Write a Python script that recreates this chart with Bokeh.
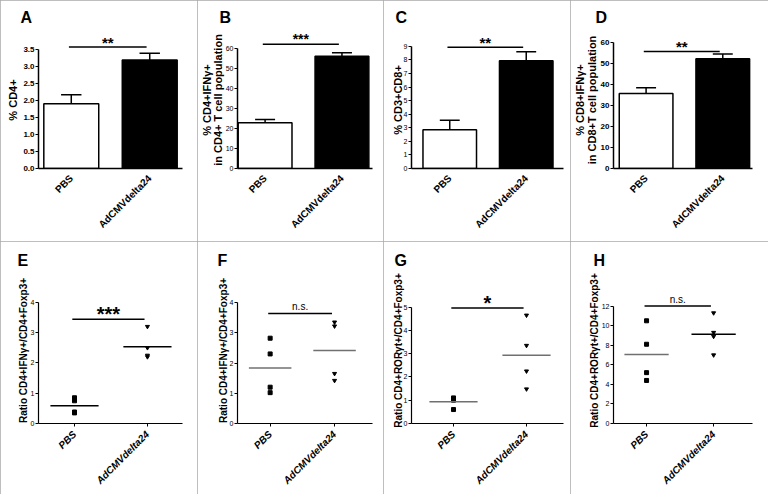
from math import pi
from bokeh.plotting import figure
from bokeh.layouts import gridplot
from bokeh.models import Range1d, FixedTicker, Label, NumeralTickFormatter, LinearAxis
from bokeh.embed import file_html
from bokeh.resources import INLINE

# ---------------- data ----------------
groups = ["PBS", "AdCMVdelta24"]

# top row: mean and SEM of the bar charts
a_mean = [1.90, 3.18]
a_sem = [0.26, 0.20]
b_mean = [22.8, 56.0]
b_sem = [1.7, 1.8]
c_mean = [2.85, 7.95]
c_sem = [0.70, 0.65]
d_mean = [35.7, 52.3]
d_sem = [2.8, 2.2]

# bottom row: individual ratios
e_pbs = [0.85, 0.75, 0.38, 0.35]
e_ad = [3.20, 2.50, 2.25, 2.20]
f_pbs = [2.82, 2.30, 1.20, 1.02]
f_ad = [3.35, 3.22, 1.65, 1.42]
g_pbs = [1.05, 1.00, 1.10, 0.60]
g_ad = [4.65, 3.35, 2.25, 1.48]
h_pbs = [10.5, 8.1, 5.2, 4.4]
h_ad = [11.3, 9.3, 8.9, 7.0]

panel_letters = ["A", "B", "C", "D", "E", "F", "G", "H"]
sig_labels = ["**", "***", "**", "**", "***", "n.s.", "*", "n.s."]
sig_levels = [3.56, 62.0, 8.93, 55.7, 3.44, 3.64, 4.96, 12.0]

ticks_a = [0, 0.5, 1.0, 1.5, 2.0, 2.5, 3.0, 3.5]
ticks_b = [0, 10, 20, 30, 40, 50, 60]
ticks_c = [0, 1, 2, 3, 4, 5, 6, 7, 8, 9]
ticks_d = [0, 10, 20, 30, 40, 50, 60]
ticks_e = [0, 1, 2, 3, 4]
ticks_f = [0, 1, 2, 3, 4]
ticks_g = [0, 1, 2, 3, 4, 5]
ticks_h = [0, 2, 4, 6, 8, 10, 12]

ylab_a = "% CD4+"
ylab_b = ["% CD4+IFNγ+", "in CD4+ T cell population"]
ylab_c = "% CD3+CD8+"
ylab_d = ["% CD8+IFNγ+", "in CD8+T cell population"]
ylab_e = "Ratio CD4+IFNγ+/CD4+Foxp3+"
ylab_f = "Ratio CD4+IFNγ+/CD4+Foxp3+"
ylab_g = "Ratio CD4+RORγt+/CD4+Foxp3+"
ylab_h = "Ratio CD4+RORγt+/CD4+Foxp3+"

# ---------------- layout / style ----------------
FONT = "Liberation Sans"
COL_W = [197, 186, 187, 198]
ROW_H = [241, 253]
# reference geometry (px inside each panel): axis-left, axis-right, y0, ytop-tick,
# x(PBS), x(Ad), letter centre x, title standoff, frame top, y-label standoff
GEO = [
    dict(L=37, R=182, Y0=171, YT=49, P1=70, P2=149, lx=25, so=12, ft=31, ls=1),
    dict(L=38, R=175, Y0=170, YT=48, P1=66, P2=144, lx=26, so=12, ft=31, ls=-1),
    dict(L=25, R=180, Y0=169, YT=46, P1=64, P2=142, lx=15, so=12, ft=31, ls=1),
    dict(L=40, R=185, Y0=168, YT=42, P1=74, P2=154, lx=28, so=12, ft=31, ls=0),
    dict(L=38, R=190, Y0=183, YT=61, P1=76, P2=153, lx=23, so=17, ft=36, ls=-1),
    dict(L=32, R=185, Y0=182, YT=61, P1=69, P2=142, lx=18, so=17, ft=36, ls=-2),
    dict(L=28, R=180, Y0=184, YT=66, P1=70, P2=143, lx=17, so=17, ft=36, ls=-3),
    dict(L=39, R=182, Y0=184, YT=65, P1=73, P2=142, lx=25, so=17, ft=36, ls=-1),
]
PANEL_STYLE = {"outline": "1px solid #a8a8a8", "outline-offset": "-1px"}
LETTER_PX = 16


def label_axis(p, text, center, size, standoff):
    ax = LinearAxis(axis_label=text, ticker=FixedTicker(ticks=[]),
                    bounds=(center - 0.5, center + 0.5))
    ax.axis_line_color = None
    ax.major_tick_line_color = None
    ax.minor_tick_line_color = None
    ax.major_tick_out = 0
    ax.major_tick_in = 0
    ax.minor_tick_out = 0
    ax.major_label_standoff = 0
    ax.axis_label_standoff = standoff
    ax.axis_label_text_font = FONT
    ax.axis_label_text_font_size = size
    ax.axis_label_text_font_style = "bold"
    ax.axis_label_text_color = "black"
    p.add_layout(ax, "left")


def base_panel(i, ticks, ylabel, tick_font_size, tick_bold, ylab_size, top_row):
    col, row = i % 4, i // 4
    W, H = COL_W[col], ROW_H[row]
    g = GEO[i]
    T = ticks[-1]
    ppx = g["P2"] - g["P1"]
    ppy = (g["Y0"] - g["YT"]) / T
    xs = 1 - (g["P1"] - g["L"]) / ppx
    xe = 2 + (g["R"] - g["P2"]) / ppx
    ye = (g["Y0"] - g["ft"]) / ppy
    p = figure(width=W, height=H, x_range=Range1d(xs, xe), y_range=Range1d(0, ye),
               output_backend="svg", toolbar_location=None,
               min_border_left=g["L"], min_border_right=W - g["R"],
               min_border_top=g["ft"], min_border_bottom=H - g["Y0"],
               styles=PANEL_STYLE)
    p.grid.visible = False
    p.outline_line_color = None
    p.background_fill_color = "white"
    p.border_fill_color = "white"

    # panel letter as the plot title
    p.title.text = panel_letters[i]
    p.title.text_font = FONT
    p.title.text_font_size = f"{LETTER_PX}px"
    p.title.text_font_style = "bold"
    p.title.text_color = "black"
    p.title.align = "left"
    p.title.offset = (g["lx"] - 6) - g["L"]
    p.title.standoff = g["so"]

    ya = p.yaxis[0]
    ya.ticker = FixedTicker(ticks=ticks)
    ya.bounds = (0, T)
    if any(isinstance(t, float) for t in ticks):
        ya.formatter = NumeralTickFormatter(format="0.0")
    ya.minor_tick_line_color = None
    ya.major_tick_out = 3
    ya.major_tick_in = 0
    ya.major_label_standoff = 1
    ya.axis_line_width = 1.5 if top_row else 1.2
    ya.major_label_text_font = FONT
    ya.major_label_text_font_size = tick_font_size
    ya.major_label_text_font_style = "bold" if tick_bold else "normal"
    ya.major_label_text_color = "black"
    if ylabel:
        ya.axis_label = ylabel
        ya.axis_label_standoff = g["ls"]
        ya.axis_label_text_font = FONT
        ya.axis_label_text_font_size = ylab_size
        ya.axis_label_text_font_style = "bold"
        ya.axis_label_text_color = "black"

    xa = p.xaxis[0]
    xa.ticker = FixedTicker(ticks=[1, 2])
    xa.major_label_overrides = {1: groups[0], 2: groups[1]}
    xa.major_label_orientation = pi / 4
    xa.minor_tick_line_color = None
    xa.major_tick_in = 0
    xa.major_tick_out = 0 if top_row else 3
    xa.major_label_standoff = 8 if top_row else 6
    xa.axis_line_width = 1.5 if top_row else 1.2
    xa.major_label_text_font = FONT
    xa.major_label_text_font_size = "10px"
    xa.major_label_text_font_style = "bold" if top_row else "bold italic"
    xa.major_label_text_color = "black"

    # significance bar
    s = sig_levels[i]
    p.segment(x0=[0.97], y0=[s], x1=[1.96], y1=[s], line_color="black", line_width=1.5)
    lab = sig_labels[i]
    if lab.startswith("*"):
        fs = 20 if i in (4, 6) else (14 if i == 1 else 15)
        p.add_layout(Label(x=1.465, y=s, text=lab, text_font=FONT, text_font_size=f"{fs}px",
                           text_font_style="bold", text_align="center", text_color="black",
                           text_baseline="alphabetic", y_offset=5))
    else:
        p.add_layout(Label(x=1.465, y=s, text=lab, text_font=FONT, text_font_size="10px",
                           text_align="center", text_baseline="alphabetic", text_color="black",
                           y_offset=7))
    return p, ppy, g


def bar_panel(i, mean, sem, ticks, ylabel, tick_font_size, tick_bold):
    if i == 2:
        p, ppy, g = base_panel(i, ticks, None, tick_font_size, tick_bold, "11px", True)
        label_axis(p, ylabel, (g["Y0"] - 92) / ppy, "11px", -3)
    elif isinstance(ylabel, str):
        p, ppy, g = base_panel(i, ticks, ylabel, tick_font_size, tick_bold, "11px", True)
    else:
        p, ppy, g = base_panel(i, ticks, ylabel[1], tick_font_size, tick_bold, "11px", True)
        label_axis(p, ylabel[0], (g["Y0"] - 63) / ppy, "11px", -4 if i == 1 else -3)
    x = [1, 2]
    tops = [m + e for m, e in zip(mean, sem)]
    p.segment(x0=x, y0=mean, x1=x, y1=tops, line_color="black", line_width=1.5)
    p.segment(x0=[v - 0.13 for v in x], y0=tops, x1=[v + 0.13 for v in x], y1=tops,
              line_color="black", line_width=1.5)
    p.vbar(x=x, top=mean, bottom=0, width=0.7, fill_color=["white", "black"],
           line_color="black", line_width=1.5)
    return p


def dot_panel(i, pbs, ad, ticks, ylabel, mean_colors):
    p, _, _ = base_panel(i, ticks, ylabel, "7px", False, "10px", False)
    p.scatter(x=[1] * len(pbs), y=pbs, marker="square", size=4, color="black")
    p.scatter(x=[2] * len(ad), y=ad, marker="inverted_triangle", size=4, color="black")
    means = [sum(pbs) / len(pbs), sum(ad) / len(ad)]
    p.segment(x0=[0.67, 1.67], y0=means, x1=[1.33, 2.33], y1=means,
              line_color=mean_colors, line_width=1.5)
    return p


GRAY = "#707070"
pA = bar_panel(0, a_mean, a_sem, ticks_a, ylab_a, "8px", True)
pB = bar_panel(1, b_mean, b_sem, ticks_b, ylab_b, "7px", False)
pC = bar_panel(2, c_mean, c_sem, ticks_c, ylab_c, "7px", False)
pD = bar_panel(3, d_mean, d_sem, ticks_d, ylab_d, "8px", True)
pE = dot_panel(4, e_pbs, e_ad, ticks_e, ylab_e, ["black", "black"])
pF = dot_panel(5, f_pbs, f_ad, ticks_f, ylab_f, [GRAY, GRAY])
pG = dot_panel(6, g_pbs, g_ad, ticks_g, ylab_g, [GRAY, GRAY])
pH = dot_panel(7, h_pbs, h_ad, ticks_h, ylab_h, [GRAY, "black"])

grid = gridplot([[pA, pB, pC, pD], [pE, pF, pG, pH]], toolbar_location=None)

with open("out.html", "w") as f:
    f.write(file_html(grid, INLINE))
